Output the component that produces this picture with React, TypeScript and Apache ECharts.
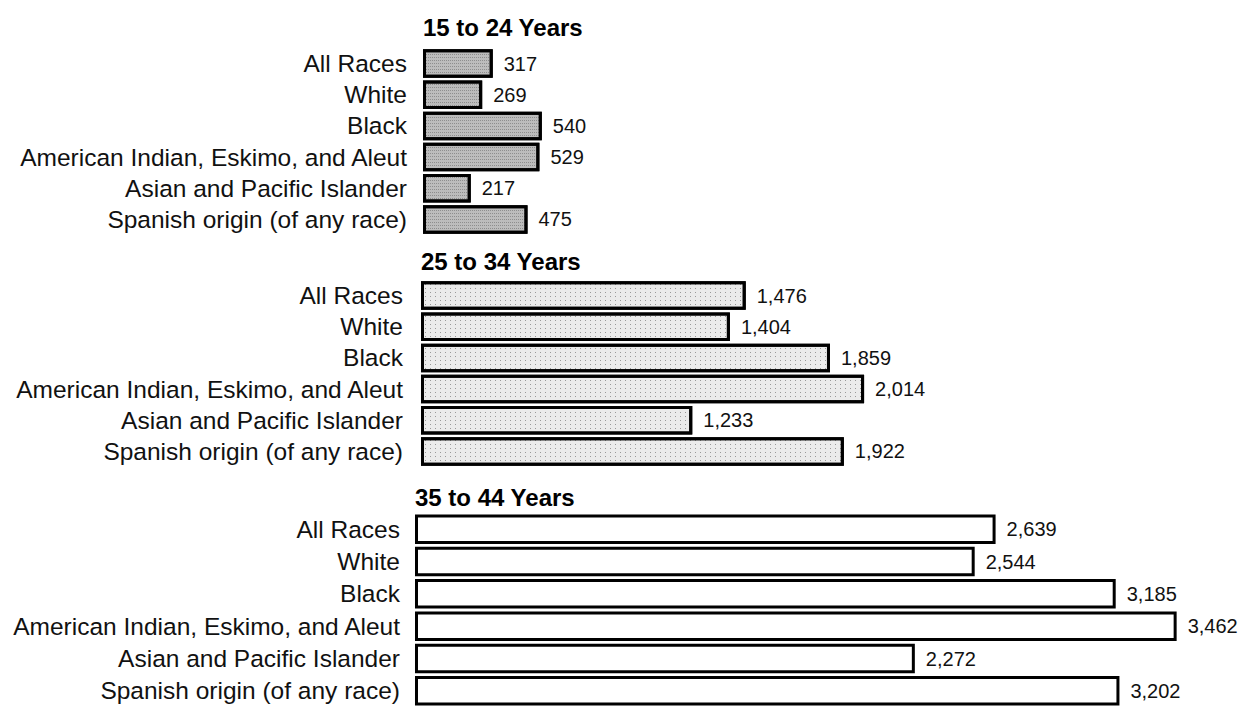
import React, { useEffect, useRef } from "react";
import * as echarts from "echarts";

const categories = [
  "All Races",
  "White",
  "Black",
  "American Indian, Eskimo, and Aleut",
  "Asian and Pacific Islander",
  "Spanish origin (of any race)",
];
const groupTitles = ["15 to 24 Years", "25 to 34 Years", "35 to 44 Years"];
const values15to24 = [317, 269, 540, 529, 217, 475];
const values25to34 = [1476, 1404, 1859, 2014, 1233, 1922];
const values35to44 = [2639, 2544, 3185, 3462, 2272, 3202];

const groupValues = [values15to24, values25to34, values35to44];
const fills = ["#bcbcbc", "#ebebeb", "#ffffff"];
const decals: any[] = [
  {
    symbol: "rect",
    symbolSize: 1,
    dashArrayX: [1, 1],
    dashArrayY: [1, 2],
    color: "rgba(0,0,0,0.25)",
  },
  {
    symbol: "rect",
    symbolSize: 1,
    dashArrayX: [1, 4],
    dashArrayY: [1, 3],
    color: "rgba(0,0,0,0.35)",
  },
  null,
];
const gridTops = [48, 280, 513];
const gridHeights = [187, 187, 195];
const gridLefts = [423, 421, 415];
const titleYs = [27, 261, 497];
const labelMargins = [16, 18, 15];
const barWidths = [28.5, 28.5, 29.5];

const fmt = (v: number) => v.toLocaleString("en-US");

export default function App() {
  const ref = useRef<HTMLDivElement>(null);
  useEffect(() => {
    if (!ref.current) return;
    const chart = echarts.init(ref.current, null, { renderer: "svg" });
    const grids = gridTops.map((t, i) => ({
      left: gridLefts[i],
      top: t,
      width: 792,
      height: gridHeights[i],
      containLabel: false,
    }));
    const xAxes = gridTops.map((_, i) => ({
      type: "value",
      gridIndex: i,
      min: 0,
      max: 3600,
      show: false,
    }));
    const yAxes = gridTops.map((_, i) => ({
      type: "category",
      gridIndex: i,
      data: categories,
      inverse: true,
      axisLine: { show: false },
      axisTick: { show: false },
      axisLabel: {
        interval: 0,
        hideOverlap: false,
        margin: labelMargins[i],
        fontSize: 24.5,
        color: "#111",
        fontFamily: "'Liberation Sans', Arial, sans-serif",
      },
    }));
    const series = groupValues.map((vals, i) => {
      const itemStyle: any = {
        color: fills[i],
        borderColor: "#000",
        borderWidth: 3,
      };
      if (decals[i]) itemStyle.decal = decals[i];
      return {
        type: "bar",
        xAxisIndex: i,
        yAxisIndex: i,
        data: vals,
        barWidth: barWidths[i],
        itemStyle,
        label: {
          show: true,
          position: "right",
          distance: 11,
          fontSize: 20,
          color: "#111",
          fontFamily: "'Liberation Sans', Arial, sans-serif",
          formatter: (p: any) => fmt(p.value),
        },
      };
    });
    const graphic = groupTitles.map((t, i) => ({
      type: "text",
      left: gridLefts[i],
      top: titleYs[i] - 12,
      style: {
        text: t,
        fontSize: 24,
        fontWeight: "bold",
        fill: "#000",
        fontFamily: "'Liberation Sans', Arial, sans-serif",
      },
    }));
    chart.setOption({
      animation: false,
      backgroundColor: "#fff",
      grid: grids,
      xAxis: xAxes,
      yAxis: yAxes,
      series,
      graphic,
    });
    return () => chart.dispose();
  }, []);
  return (
    <div
      ref={ref}
      style={{ position: "fixed", left: 0, top: 0, width: 1254, height: 707 }}
    />
  );
}
